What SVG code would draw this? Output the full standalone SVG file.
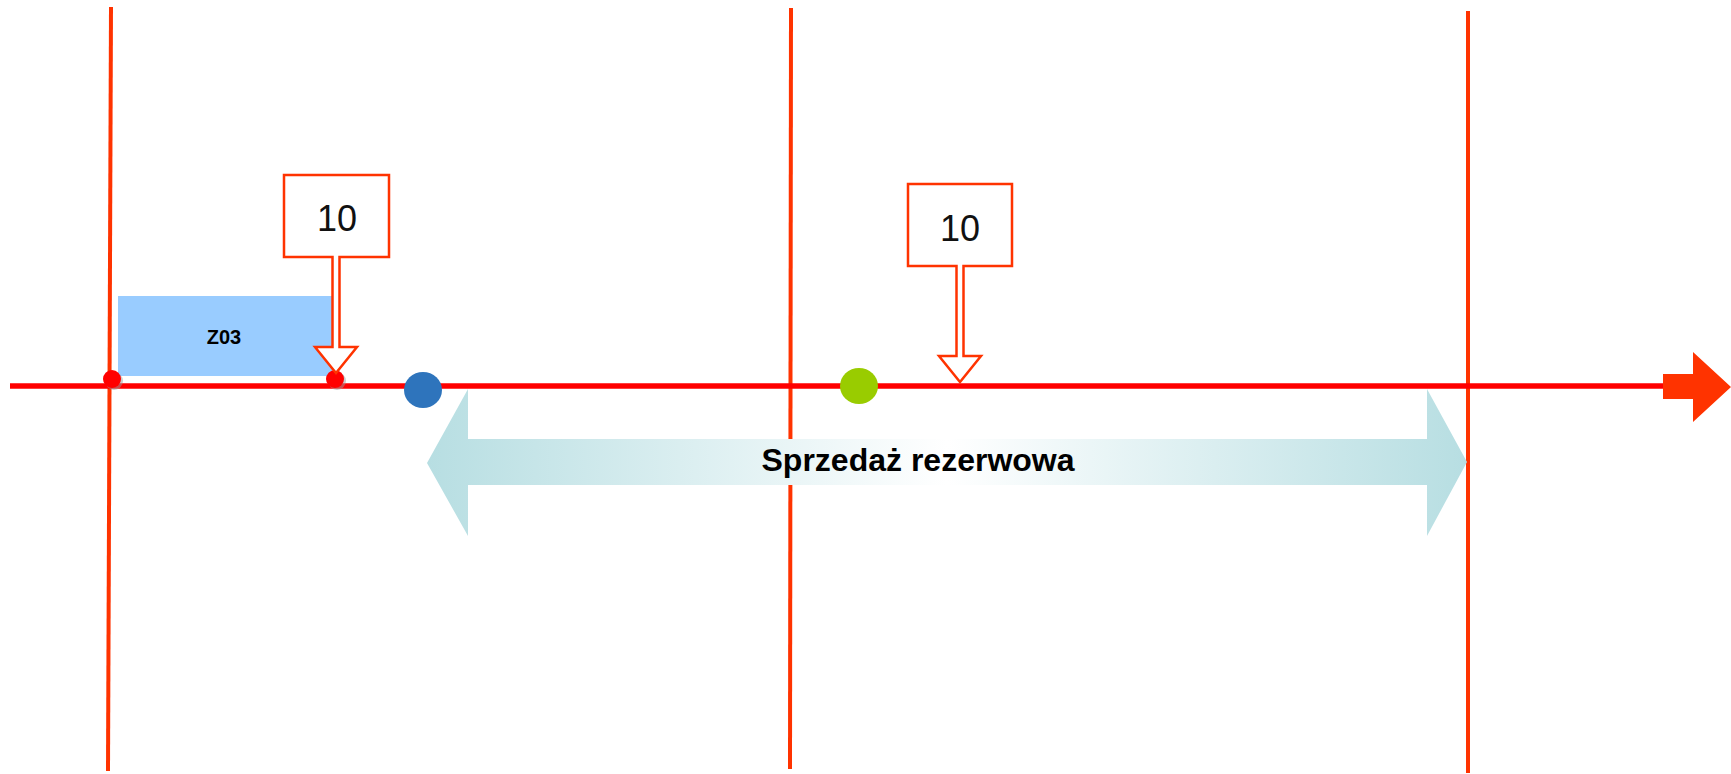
<svg xmlns="http://www.w3.org/2000/svg" width="1731" height="774" viewBox="0 0 1731 774">
<style>
.vline{stroke:#FF3300;stroke-width:4;fill:none}
.callout{fill:#FFFFFF;stroke:#FF3300;stroke-width:2.5}
.num{font-family:"Liberation Sans",Arial,sans-serif;font-size:36px;fill:#111111;text-anchor:middle}
.bold{font-family:"Liberation Sans",Arial,sans-serif;font-weight:bold;fill:#000000;text-anchor:middle}
.dot{fill:#FF0000}
.shadow{fill:#999999;opacity:0.5}
</style>
<defs>
<linearGradient id="fade" x1="427" y1="0" x2="1467" y2="0" gradientUnits="userSpaceOnUse">
<stop offset="0" stop-color="#B7DEE2"/>
<stop offset="0.5" stop-color="#FFFFFF"/>
<stop offset="1" stop-color="#B7DEE2"/>
</linearGradient>
</defs>
<rect width="1731" height="774" fill="#FFFFFF"/>
<g id="connectors">
<line class="vline" x1="111" y1="7" x2="108" y2="771"/>
<line class="vline" x1="791" y1="8" x2="790" y2="769"/>
<line class="vline" x1="1468" y1="11" x2="1468" y2="773"/>
</g>
<g id="reserve-arrow">
<polygon points="427,463 468,389 468,439 1427,439 1427,389 1467,462 1427,536 1427,485 468,485 468,536" fill="url(#fade)"/>
<text class="bold" x="918" y="471" font-size="32">Sprzedaż rezerwowa</text>
</g>
<g id="z03">
<rect x="118" y="296" width="214" height="80" fill="#99CCFF"/>
<text class="bold" x="224" y="344" font-size="20">Z03</text>
</g>
<g id="timeline">
<line x1="10" y1="386" x2="1665" y2="386" stroke="#FF0000" stroke-width="5.5"/>
<polygon points="1663,374 1693,374 1693,352 1731,387 1693,422 1693,399 1663,399" fill="#FF3300"/>
</g>
<g id="dot-start">
<circle class="shadow" cx="114" cy="381" r="9"/>
<circle class="dot" cx="112" cy="379" r="9"/>
</g>
<g id="dot-z03">
<circle class="shadow" cx="337" cy="381" r="9"/>
<circle class="dot" cx="335" cy="379" r="9"/>
</g>
<g id="blue-point">
<ellipse cx="423" cy="390" rx="19" ry="18" fill="#2E74BC"/>
</g>
<g id="green-point">
<ellipse cx="859" cy="386" rx="19" ry="18" fill="#99CC00"/>
</g>
<g id="callout-1">
<path class="callout" d="M284,175 H389 V257 H339.5 V347 H357 L336,373 L315,347 H332.5 V257 H284 Z"/>
<text class="num" x="337" y="231">10</text>
</g>
<g id="callout-2">
<path class="callout" d="M908,184 H1012 V266 H963.5 V356 H981 L960,382 L939,356 H956.5 V266 H908 Z"/>
<text class="num" x="960" y="241">10</text>
</g>
</svg>
